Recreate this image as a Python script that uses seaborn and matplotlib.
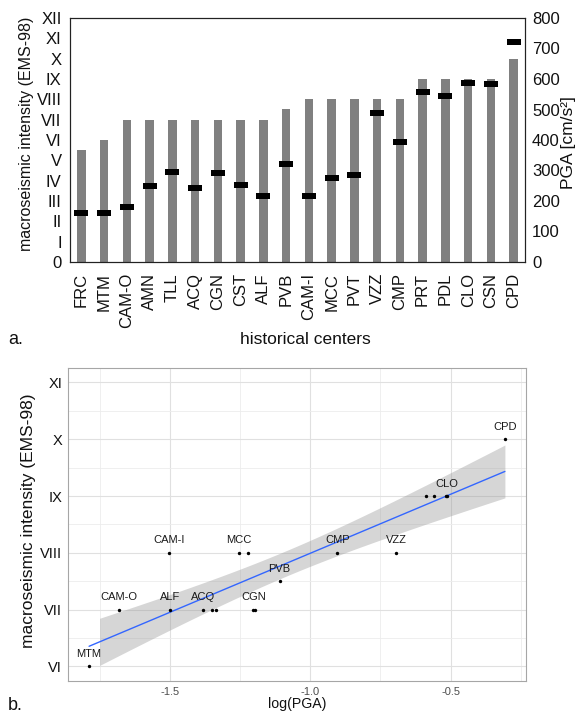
import numpy as np
import pandas as pd
import matplotlib
matplotlib.use("Agg")
import matplotlib.pyplot as plt
from matplotlib.path import Path
import seaborn as sns

# ---------------- data (panel a) ----------------
centers = ["FRC", "MTM", "CAM-O", "AMN", "TLL", "ACQ", "CGN", "CST", "ALF", "PVB",
           "CAM-I", "MCC", "PVT", "VZZ", "CMP", "PRT", "PDL", "CLO", "CSN", "CPD"]
intensity = [5.5, 6, 7, 7, 7, 7, 7, 7, 7, 7.5, 8, 8, 8, 8, 8, 9, 9, 9, 9, 10]
pga = [162, 160, 179, 250, 294, 243, 291, 254, 215, 320,
       215, 277, 285, 488, 394, 559, 545, 587, 583, 721]
roman_a = ["0", "I", "II", "III", "IV", "V", "VI", "VII", "VIII", "IX", "X", "XI", "XII"]
pga_ticks = [0, 100, 200, 300, 400, 500, 600, 700, 800]

# ---------------- data (panel b) ----------------
b_centers = ["MTM", "CAM-O", "AMN", "TLL", "ACQ", "CGN", "CST", "ALF", "PVB", "CAM-I",
             "MCC", "PVT", "VZZ", "CMP", "PRT", "PDL", "CLO", "CSN", "CPD"]
b_intensity = [6, 7, 7, 7, 7, 7, 7, 7, 7.5, 8, 8, 8, 8, 8, 9, 9, 9, 9, 10]
b_logpga = [-1.790, -1.685, -1.352, -1.198, -1.382, -1.204, -1.338, -1.500, -1.110, -1.505,
            -1.255, -1.222, -0.694, -0.904, -0.560, -0.587, -0.515, -0.512, -0.306]
labeled = ["MTM", "CAM-O", "CAM-I", "ALF", "ACQ", "MCC", "CGN", "PVB", "CMP", "VZZ", "CLO", "CPD"]
b_yticks = [6, 7, 8, 9, 10, 11]
roman_b = ["VI", "VII", "VIII", "IX", "X", "XI"]
b_xticks = [-1.5, -1.0, -0.5]
b_xtick_labels = ["-1.5", "-1.0", "-0.5"]

sns.set_style("white")
plt.rcParams["font.family"] = ["Liberation Sans", "DejaVu Sans"]

W, H = 578, 713
fig = plt.figure(figsize=(W / 100, H / 100), dpi=100)


def fx(px):
    return px / W


def fy(py):
    return 1 - py / H


# ================= panel a =================
ax = fig.add_axes([fx(70), fy(262), fx(455), 244 / H])
df_a = pd.DataFrame({"center": centers, "intensity": intensity, "pga": pga})
sns.barplot(data=df_a, x="center", y="intensity", color="#808080", saturation=1,
            width=0.37, linewidth=0, ax=ax, zorder=2)
ax.set_ylim(0, 12)
ax.set_yticks(range(13))
ax.set_yticklabels(roman_a)
ax.set_xlabel("")
ax.set_ylabel("")

ax2 = ax.twinx()
rect = Path([(-1, -0.43), (1, -0.43), (1, 0.43), (-1, 0.43), (-1, -0.43)],
            [Path.MOVETO, Path.LINETO, Path.LINETO, Path.LINETO, Path.CLOSEPOLY])
sns.scatterplot(data=df_a, x="center", y="pga", marker=rect, s=10.1 ** 2,
                color="black", linewidth=0, ax=ax2, zorder=3)
ax2.set_ylim(0, 800)
ax2.set_yticks(pga_ticks)
ax2.set_xlabel("")
ax2.set_ylabel("")
ax.set_xlim(-0.5, len(centers) - 0.5)

for a in (ax, ax2):
    for s in a.spines.values():
        s.set_visible(True)
        s.set_color("#222222")
        s.set_linewidth(0.8)
ax.tick_params(axis="y", length=0, pad=6, labelsize=12, colors="#111111")
ax.tick_params(axis="x", length=0, pad=8, labelsize=12, colors="#111111", labelrotation=90)
ax2.tick_params(axis="y", length=0, pad=5, labelsize=12, colors="#111111")

fig.text(fx(26.5), fy(134), "macroseismic intensity (EMS-98)", rotation=90,
         ha="center", va="center", fontsize=11.5, color="#111111")
fig.text(fx(568), fy(143), "PGA [cm/s²]", rotation=90,
         ha="center", va="center", fontsize=12.5, color="#111111")
fig.text(fx(305), fy(339), "historical centers", ha="center", va="center",
         fontsize=12.5, color="#111111")
fig.text(fx(8), fy(340), "a.", ha="left", va="center", fontsize=13, color="#111111")

# ================= panel b =================
axb = fig.add_axes([fx(68.3), fy(680.5), fx(457.4), 312.2 / H])
axb.set_facecolor("white")
df_b = pd.DataFrame({"center": b_centers, "intensity": b_intensity, "logpga": b_logpga})

xlo, xhi = min(b_logpga), max(b_logpga)
xpad = 0.05 * (xhi - xlo)
axb.set_xlim(xlo - xpad, xhi + xpad)
ylo, yhi = b_yticks[0], b_yticks[-1]
ypad = 0.05 * (yhi - ylo)
axb.set_ylim(ylo - ypad, yhi + ypad)

# linear fit with 95% confidence band
xv = np.asarray(b_logpga, float)
yv = np.asarray(b_intensity, float)
n = len(xv)
slope, icpt = np.polyfit(xv, yv, 1)
xs = np.linspace(xlo, xhi, 80)
fit = icpt + slope * xs
resid = yv - (icpt + slope * xv)
s_err = np.sqrt(np.sum(resid ** 2) / (n - 2))
sxx = np.sum((xv - xv.mean()) ** 2)
se = s_err * np.sqrt(1 / n + (xs - xv.mean()) ** 2 / sxx)
t975 = 2.1098  # Student t, 17 degrees of freedom
lower = fit - t975 * se
upper = fit + t975 * se
inside = (lower >= ylo) & (upper <= yhi)

# grid
for v in b_xticks:
    axb.axvline(v, color="#e0e0e0", lw=0.8, zorder=0)
for v in [-1.75, -1.25, -0.75, -0.25]:
    axb.axvline(v, color="#ececec", lw=0.6, zorder=0)
for v in b_yticks:
    axb.axhline(v, color="#e0e0e0", lw=0.8, zorder=0)
for v in [6.5, 7.5, 8.5, 9.5, 10.5]:
    axb.axhline(v, color="#ececec", lw=0.6, zorder=0)

axb.fill_between(xs, lower, upper, where=inside, color="#999999", alpha=0.4,
                 linewidth=0, zorder=1)
sns.lineplot(x=xs, y=fit, color="#3366FF", linewidth=1.0, ax=axb, zorder=2)
sns.scatterplot(data=df_b, x="logpga", y="intensity", color="black", s=6,
                linewidth=0, ax=axb, zorder=3)
for name in labeled:
    i = b_centers.index(name)
    axb.text(b_logpga[i], b_intensity[i] + 0.22, name, ha="center", va="center",
             fontsize=8, color="#1a1a1a", zorder=4)

axb.set_xticks(b_xticks)
axb.set_xticklabels(b_xtick_labels)
axb.set_yticks(b_yticks)
axb.set_yticklabels(roman_b)
axb.set_xlabel("")
axb.set_ylabel("")
for s in axb.spines.values():
    s.set_visible(True)
    s.set_color("#a6a6a6")
    s.set_linewidth(0.8)
axb.tick_params(axis="x", length=2.5, width=0.6, color="#888888", pad=2.5,
                labelsize=8, labelcolor="#4d4d4d")
axb.tick_params(axis="y", length=2.5, width=0.6, color="#888888", pad=2,
                labelsize=10.5, labelcolor="#111111")

fig.text(fx(28.3), fy(521), "macroseismic intensity (EMS-98)", rotation=90,
         ha="center", va="center", fontsize=12.5, color="#111111")
fig.text(fx(297.5), fy(704), "log(PGA)", ha="center", va="center",
         fontsize=10.2, color="#111111")
fig.text(fx(7.5), fy(705), "b.", ha="left", va="center", fontsize=13, color="#111111")

fig.savefig("out.png", dpi=100)
